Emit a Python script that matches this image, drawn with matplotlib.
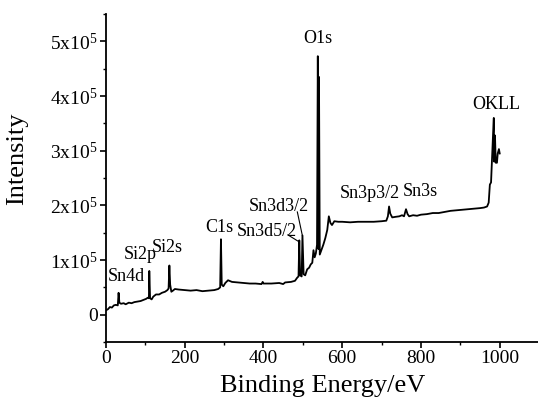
import matplotlib
matplotlib.use("Agg")
import matplotlib.pyplot as plt
from matplotlib.ticker import MultipleLocator, FixedLocator

plt.rcParams['font.family'] = ['Liberation Serif', 'DejaVu Serif']
plt.rcParams['mathtext.fontset'] = 'custom'
plt.rcParams['mathtext.rm'] = 'Liberation Serif'
plt.rcParams['mathtext.it'] = 'Liberation Serif:italic'

# survey spectrum, intensity in units of 1e5 counts
energy = [0, 5, 10, 15, 20, 25, 30, 32, 34, 38, 45, 50, 58, 65, 72, 80, 88, 95,
          102, 106, 109, 110, 112, 116, 120, 127, 135, 142, 150, 156, 159, 161,
          163, 166, 170, 175, 185, 200, 215, 230, 245, 260, 275, 285, 290, 292,
          294, 298, 303, 310, 320, 335, 350, 365, 380, 395, 398, 400, 420, 440,
          450, 455, 470, 480, 486, 489, 491, 493, 497, 499, 502, 506, 511, 516,
          520, 524, 527, 530, 533, 536, 538, 540, 541, 543, 548, 552, 557, 562,
          566, 570, 574, 580, 590, 600, 620, 640, 660, 680, 700, 712, 716, 719,
          722, 727, 735, 745, 752, 757, 762, 766, 770, 780, 790, 800, 815, 830,
          845, 860, 875, 890, 905, 920, 935, 950, 960, 968, 972, 975, 978, 980,
          983, 985, 986, 988, 990, 993, 995, 998, 1000]
intensity = [0.08, 0.10, 0.14, 0.13, 0.17, 0.18, 0.17, 0.40, 0.22, 0.20, 0.21,
             0.19, 0.22, 0.21, 0.23, 0.24, 0.25, 0.27, 0.29, 0.31, 0.30, 0.80,
             0.30, 0.28, 0.33, 0.37, 0.37, 0.40, 0.42, 0.45, 0.48, 0.90, 0.55,
             0.42, 0.44, 0.47, 0.46, 0.45, 0.44, 0.45, 0.43, 0.44, 0.45, 0.47,
             0.50, 1.38, 0.55, 0.52, 0.58, 0.63, 0.60, 0.59, 0.58, 0.57, 0.57,
             0.56, 0.60, 0.57, 0.57, 0.58, 0.56, 0.59, 0.60, 0.62, 0.68, 0.70,
             1.36, 0.72, 0.70, 1.45, 0.74, 0.72, 0.83, 0.86, 0.92, 0.95, 1.18,
             1.05, 1.12, 1.28, 4.73, 1.20, 4.35, 1.10, 1.20, 1.28, 1.40, 1.55,
             1.80, 1.68, 1.64, 1.71, 1.70, 1.70, 1.69, 1.70, 1.70, 1.70, 1.71,
             1.72, 1.80, 1.98, 1.85, 1.78, 1.79, 1.80, 1.82, 1.80, 1.93, 1.84,
             1.80, 1.82, 1.81, 1.83, 1.84, 1.86, 1.86, 1.88, 1.90, 1.91, 1.92,
             1.93, 1.94, 1.95, 1.96, 1.98, 2.05, 2.38, 2.42, 2.78, 3.28, 3.60,
             2.80, 3.28, 2.78, 2.78, 2.95, 3.03, 2.95]

# peak labels: text, x, y (1e5), horizontal alignment
peak_names = ['Sn4d', 'Si2p', 'Si2s', 'C1s', 'Sn3d5/2', 'Sn3d3/2', 'O1s',
              'Sn3p3/2', 'Sn3s', 'OKLL']
peak_x = [5, 46, 117, 251, 332, 363, 538, 594, 754, 990]
peak_y = [0.70, 1.10, 1.23, 1.60, 1.52, 1.98, 5.05, 2.22, 2.26, 3.85]
peak_ha = ['left', 'left', 'left', 'left', 'left', 'left', 'center', 'left',
           'left', 'center']

ytick_vals = [0, 1, 2, 3, 4, 5]
ytick_labels = ['0', r'1x10$^{5}$', r'2x10$^{5}$', r'3x10$^{5}$',
                r'4x10$^{5}$', r'5x10$^{5}$']

fig = plt.figure(figsize=(5.38, 3.97), dpi=100)
ax = fig.add_axes([0.197, 0.1385, 0.805, 0.826])

ax.plot(energy, [v * 1e5 for v in intensity], color='black', lw=1.3)

for name, x, y, ha in zip(peak_names, peak_x, peak_y, peak_ha):
    ax.text(x, y * 1e5, name, ha=ha, va='center', fontsize=13)

# leader lines for the Sn3d doublet
ax.plot([462, 489], [1.46e5, 1.34e5], color='black', lw=0.8)
ax.plot([486, 499], [1.88e5, 1.44e5], color='black', lw=0.8)

ax.set_xlim(0, 1100)
ax.set_ylim(-0.5e5, 5.5e5)
ax.xaxis.set_major_locator(MultipleLocator(200))
ax.xaxis.set_minor_locator(MultipleLocator(100))
ax.yaxis.set_major_locator(FixedLocator([v * 1e5 for v in ytick_vals]))
ax.yaxis.set_minor_locator(MultipleLocator(0.5e5))
ax.set_yticklabels(ytick_labels)

for side in ['top', 'right']:
    ax.spines[side].set_visible(False)
for side in ['left', 'bottom']:
    ax.spines[side].set_linewidth(1.3)

ax.tick_params(which='major', direction='out', length=4, width=1.2,
               labelsize=14, pad=2)
ax.tick_params(which='minor', direction='out', length=2.5, width=1.0)

ax.set_xlabel('Binding Energy/eV', fontsize=19)
ax.set_ylabel('Intensity', fontsize=19)
ax.xaxis.set_label_coords(0.50, -0.10)
ax.yaxis.set_label_coords(-0.18, 0.56)

fig.savefig('out.png', dpi=100)
